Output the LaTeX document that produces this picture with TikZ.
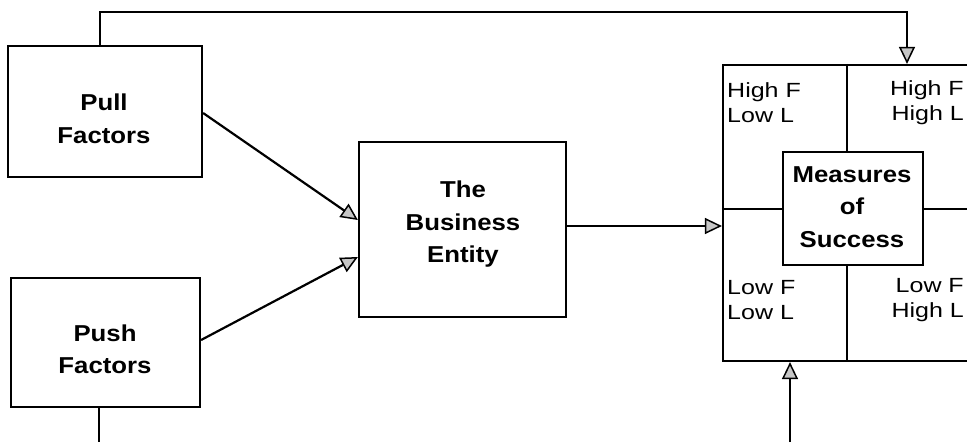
\documentclass[tikz,border=0pt]{standalone}
\usepackage{fontspec}
\setmainfont{Liberation Sans}
\newfontfamily\labfont[FakeStretch=1.22]{Liberation Sans}
\newfontfamily\boldlab[FakeStretch=1.12]{Liberation Sans Bold}
\usetikzlibrary{arrows.meta}
\tikzset{
  box/.style={draw, line width=2.2pt, inner sep=0pt},
  conn/.style={line width=2.2pt},
  arr/.style={conn, -{Triangle[length=17pt,width=16pt,fill=gray!45,line width=1.5pt]}},
  blab/.style={align=center, font=\boldlab\fontsize{23}{32.5}\selectfont, inner sep=0pt},
  qlab/.style={font=\labfont\fontsize{20.5}{25}\selectfont, inner sep=0pt}
}
\begin{document}
\begin{tikzpicture}[x=1pt,y=-1pt]
\useasboundingbox (0,0) rectangle (967,442);
\clip (0,0) rectangle (967,442);
% boxes
\node[box, minimum width=194pt, minimum height=131pt] (pull) at (105,111.5) {};
\node[box, minimum width=189pt, minimum height=129pt] (push) at (105.5,342.5) {};
\node[box, minimum width=207pt, minimum height=175pt] (ent) at (462.5,229.5) {};
\node[box, minimum width=248pt, minimum height=296pt] (quad) at (847,213) {};
\node[box, minimum width=140pt, minimum height=113pt] (mos) at (853,208.5) {};
% labels
\node[blab] (pullt) at (104,119) {Pull\\Factors};
\node[blab] (pusht) at (105,349.5) {Push\\Factors};
\node[blab] (entt) at (463,224.5) {The\\Business\\Entity};
\node[blab] (most) at (852,207) {Measures\\of\\Success};
\node[qlab, anchor=west, align=left] (q1) at (727,102.5) {High F\\Low L};
\node[qlab, anchor=east, align=right] (q2) at (964,102.5) {High F\\High L};
\node[qlab, anchor=west, align=left] (q3) at (727,300) {Low F\\Low L};
\node[qlab, anchor=east, align=right] (q4) at (964,300) {Low F\\High L};
% quadrant dividers
\coordinate (vx) at (847,0);
\coordinate (hy) at (0,209);
\draw[conn] (vx |- quad.north) -- (vx |- mos.north);
\draw[conn] (vx |- mos.south) -- (vx |- quad.south);
\draw[conn] (quad.west |- hy) -- (mos.west |- hy);
\draw[conn] (mos.east |- hy) -- (quad.east |- hy);
% connectors
\coordinate (a1) at (100,12);
\coordinate (a2) at (907,12);
\draw[arr] (a1 |- pull.north) -- (a1) -- (a2) -- (a2 |- quad.north);
\draw[arr] (pull.east |- 0,113) -- (ent.west |- 0,220);
\draw[arr] (push.east |- 0,340) -- (ent.west |- 0,257);
\draw[arr] (ent.east |- 0,226) -- (quad.west |- 0,226);
\coordinate (b1) at (99,442);
\draw[conn] (b1 |- push.south) -- (b1);
\coordinate (b2) at (790,442);
\draw[arr] (b2) -- (b2 |- quad.south);
\end{tikzpicture}
\end{document}
